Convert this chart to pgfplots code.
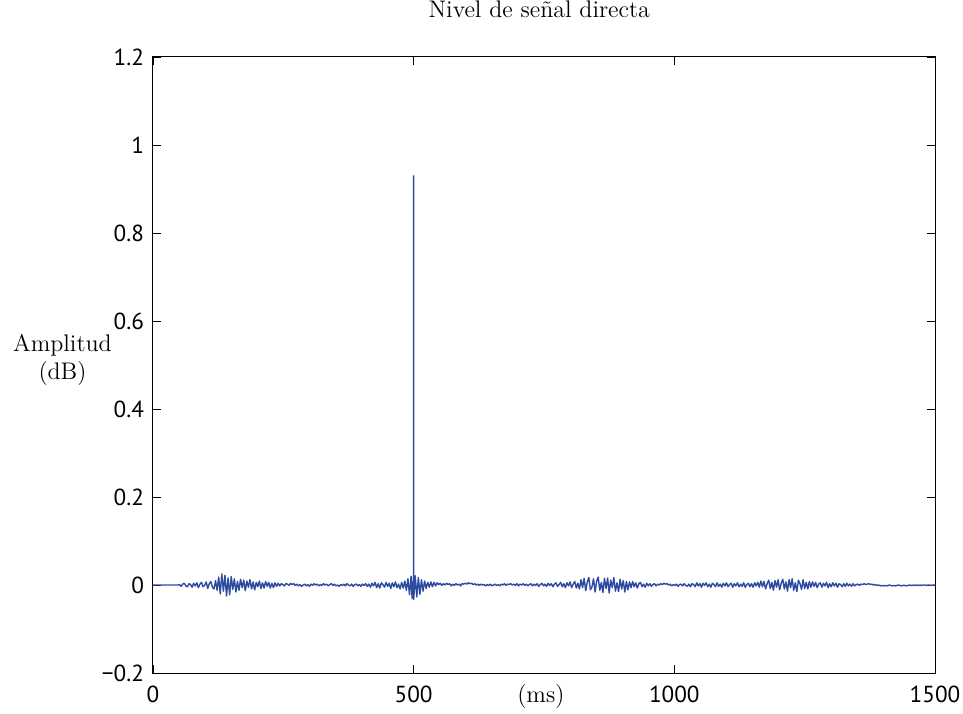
\documentclass[border=0pt]{standalone}
\usepackage{fontspec}
\usepackage{pgfplots}
\pgfplotsset{compat=1.18}
\newfontfamily\ticksfont{PT Sans}
\definecolor{sigblue}{RGB}{45,75,160}

\begin{document}
\begin{tikzpicture}
\begin{axis}[
  scale only axis,
  width=391pt, height=308pt,
  xmin=0, xmax=1500, ymin=-0.2, ymax=1.2,
  xtick={0,500,1000,1500},
  xticklabels={0,500,1000,1500},
  ytick={-0.2,0,0.2,0.4,0.6,0.8,1,1.2},
  yticklabels={−0.2,0,0.2,0.4,0.6,0.8,1,1.2},
  tick label style={font=\ticksfont\fontsize{11.6}{13}\selectfont},
  xticklabel style={anchor=base, yshift=-14.5pt},
  yticklabel style={xshift=-1pt},
  tick align=inside,
  major tick length=4pt,
  tick style={black, line width=0.4pt},
  axis line style={black, line width=0.5pt},
  title={Nivel de señal directa},
  title style={font=\large, at={(axis description cs:0.494,1)}, anchor=base, yshift=13.5pt},
  xlabel={(ms)},
  xlabel style={font=\large, at={(axis description cs:0.496,0)}, anchor=base, yshift=-14.5pt},
  ylabel={Amplitud\\(dB)},
  ylabel style={font=\large, rotate=-90, align=center, at={(axis description cs:0,0.508)}, xshift=-45.25pt, anchor=center},
]
\addplot[sigblue, line width=0.7pt, line join=round] coordinates {
(0,0) (48,0)
(51,0.001) (54,-0.003) (57,0.002) (60,0.004) (63,-0.002) (66,-0.004) (69,0.003) (72,0.001) (75,-0.005) (78,0.004)
(81,-0.002) (84,0.005) (87,-0.006) (90,0.002) (93,0.006) (96,-0.004) (99,-0.001) (102,0.007) (105,-0.008) (108,0.003)
(111,0.008) (114,-0.005) (117,-0.009) (120,0.010) (123,-0.012) (126,0.018) (129,-0.020) (132,0.025) (135,-0.014) (138,0.022)
(141,-0.025) (144,0.016) (147,-0.022) (150,0.019) (153,-0.010) (156,0.014) (159,-0.016) (162,0.008) (165,-0.012) (168,0.013)
(171,-0.006) (174,0.011) (177,-0.013) (180,0.009) (183,-0.005) (186,0.012) (189,-0.009) (192,0.007) (195,-0.011) (198,0.006)
(201,-0.004) (204,0.009) (207,-0.008) (210,0.005) (213,-0.007) (216,0.008) (219,-0.003) (222,0.006) (225,-0.007) (228,0.004)
(231,-0.006) (234,0.005) (237,-0.003) (240,0.004) (243,-0.002) (246,0.003) (249,0.001) (252,-0.002) (255,0.003) (258,0.002)
(261,-0.001) (264,0.004) (267,0.001) (270,0.003) (273,-0.001) (276,0.002) (279,-0.002) (282,0.001) (285,-0.003) (288,0.000)
(291,0.002) (294,-0.002) (297,0.001) (300,-0.003) (303,0.002) (306,-0.001) (309,0.003) (312,0.000) (315,0.002) (318,-0.002)
(321,0.001) (324,-0.001) (327,0.003) (330,0.000) (333,0.002) (336,-0.002) (339,0.001) (342,0.003) (345,-0.001) (348,0.002)
(351,-0.002) (354,0.000) (357,-0.003) (360,0.001) (363,-0.001) (366,0.002) (369,-0.002) (372,0.003) (375,0.000) (378,-0.002)
(381,0.002) (384,-0.003) (387,0.001) (390,0.002) (393,-0.002) (396,0.001) (399,-0.003) (402,0.002) (405,-0.001) (408,0.003)
(411,-0.003) (414,0.002) (417,-0.005) (420,0.004) (423,-0.002) (426,0.006) (429,-0.006) (432,0.003) (435,-0.007) (438,0.005)
(441,0.001) (444,-0.005) (447,0.006) (450,-0.003) (453,0.004) (456,-0.008) (459,0.005) (462,-0.004) (465,0.007) (468,-0.006)
(471,0.002) (474,-0.009) (477,0.006) (480,-0.007) (483,0.009) (486,-0.012) (489,0.014) (492,-0.022) (495,0.020) (497,-0.030)
(500,0.023) (500,0.930) (500,-0.033) (503,0.021) (506,-0.027) (509,0.017) (512,-0.021) (515,0.012) (518,-0.014) (521,0.009)
(524,-0.008) (527,0.006) (530,-0.005) (533,0.007) (536,-0.004) (539,0.006) (542,-0.002) (545,0.005) (548,0.001) (551,0.004)
(554,-0.001) (557,0.003) (560,0.000) (563,0.004) (566,0.001) (569,0.003) (572,-0.002) (575,0.002) (578,-0.001) (581,0.003)
(584,0.000) (587,0.002) (590,-0.002) (593,0.003) (596,0.002) (599,0.004) (602,0.002) (605,0.005) (608,0.003) (611,0.004)
(614,0.001) (617,0.003) (620,0.000) (623,0.002) (626,-0.001) (629,0.002) (632,0.000) (635,0.001) (638,-0.002) (641,0.001)
(644,-0.001) (647,0.002) (650,-0.002) (653,0.000) (656,0.002) (659,-0.001) (662,0.001) (665,-0.002) (668,0.002) (671,0.000)
(674,0.003) (677,-0.001) (680,0.002) (683,0.001) (686,0.003) (689,0.000) (692,0.002) (695,-0.001) (698,0.003) (701,-0.002)
(704,0.002) (707,0.000) (710,0.003) (713,-0.001) (716,0.002) (719,-0.002) (722,0.001) (725,0.003) (728,-0.002) (731,0.002)
(734,-0.001) (737,0.003) (740,-0.003) (743,0.001) (746,0.004) (749,-0.002) (752,0.002) (755,-0.003) (758,0.004) (761,-0.001)
(764,0.003) (767,-0.004) (770,0.002) (773,0.005) (776,-0.003) (779,0.001) (782,0.006) (785,-0.004) (788,0.003) (791,-0.006)
(794,0.005) (797,-0.002) (800,0.007) (803,-0.006) (806,0.002) (809,0.008) (812,-0.007) (815,0.004) (818,-0.009) (821,0.012)
(824,-0.006) (827,0.015) (830,-0.013) (833,0.007) (836,0.017) (839,-0.011) (842,-0.004) (845,0.014) (848,-0.016) (851,0.009)
(854,0.018) (857,-0.012) (860,0.006) (863,-0.017) (866,0.015) (869,-0.008) (872,0.016) (875,-0.018) (878,0.011) (881,-0.006)
(884,0.017) (887,-0.014) (890,0.005) (893,-0.015) (896,0.013) (899,-0.009) (902,0.010) (905,-0.016) (908,0.008) (911,-0.011)
(914,0.007) (917,-0.006) (920,0.008) (923,-0.004) (926,0.005) (929,-0.007) (932,0.003) (935,0.006) (938,-0.004) (941,0.002)
(944,-0.005) (947,0.004) (950,-0.002) (953,0.003) (956,-0.003) (959,0.001) (962,0.003) (965,-0.002) (968,0.002) (971,0.000)
(974,0.003) (977,0.001) (980,0.004) (983,0.002) (986,0.003) (989,0.000) (992,0.002) (995,-0.002) (998,0.001) (1001,-0.001)
(1004,0.002) (1007,-0.003) (1010,0.001) (1013,0.002) (1016,-0.002) (1019,0.003) (1022,-0.001) (1025,-0.003) (1028,0.002) (1031,-0.004)
(1034,0.003) (1037,0.001) (1040,-0.004) (1043,0.005) (1046,-0.002) (1049,0.003) (1052,-0.005) (1055,0.004) (1058,-0.001) (1061,0.005)
(1064,-0.004) (1067,0.002) (1070,-0.005) (1073,0.004) (1076,0.001) (1079,-0.004) (1082,0.005) (1085,-0.003) (1088,0.002) (1091,-0.005)
(1094,0.004) (1097,-0.002) (1100,0.005) (1103,-0.004) (1106,0.001) (1109,0.004) (1112,-0.005) (1115,0.003) (1118,-0.002) (1121,0.005)
(1124,-0.004) (1127,0.002) (1130,-0.003) (1133,0.005) (1136,-0.005) (1139,0.001) (1142,0.004) (1145,-0.004) (1148,0.003) (1151,-0.005)
(1154,0.005) (1157,-0.002) (1160,0.006) (1163,-0.005) (1166,0.009) (1169,-0.004) (1172,0.008) (1175,-0.009) (1178,0.003) (1181,0.011)
(1184,-0.008) (1187,0.006) (1190,-0.012) (1193,0.010) (1196,-0.005) (1199,0.012) (1202,-0.011) (1205,0.004) (1208,0.013) (1211,-0.009)
(1214,0.007) (1217,-0.014) (1220,0.012) (1223,-0.006) (1226,0.014) (1229,-0.012) (1232,0.005) (1235,-0.015) (1238,0.011) (1241,0.003)
(1244,-0.010) (1247,0.012) (1250,-0.008) (1253,0.006) (1256,-0.009) (1259,0.008) (1262,-0.005) (1265,0.007) (1268,-0.003) (1271,0.006)
(1274,-0.006) (1277,0.002) (1280,0.005) (1283,-0.005) (1286,0.004) (1289,-0.002) (1292,0.006) (1295,-0.006) (1298,0.003) (1301,-0.004)
(1304,0.005) (1307,-0.002) (1310,0.004) (1313,-0.005) (1316,0.003) (1319,0.001) (1322,-0.004) (1325,0.003) (1328,-0.003) (1331,0.004)
(1334,-0.002) (1337,0.002) (1340,-0.003) (1343,0.003) (1346,-0.002) (1349,0.001) (1352,0.002) (1355,-0.001) (1358,0.002) (1361,0.001)
(1364,0.003) (1367,0.001) (1370,0.002) (1373,0.003) (1376,0.001) (1379,0.002) (1382,0.000) (1385,0.001) (1388,-0.001) (1391,0.000)
(1394,-0.001) (1397,-0.002) (1400,-0.001) (1403,-0.002) (1406,-0.001) (1409,-0.002) (1412,0.000) (1415,-0.001) (1418,-0.002) (1421,-0.001)
(1424,-0.002) (1427,-0.001) (1430,0.000) (1433,-0.001) (1436,-0.002) (1439,-0.001) (1442,-0.001) (1445,-0.002) (1448,-0.001) (1451,0.000)
(1454,-0.001) (1457,-0.001) (1460,0.000) (1463,-0.001) (1466,0.000) (1469,-0.001) (1472,0.000) (1475,-0.001) (1478,0.000) (1481,0.000)
(1484,-0.001) (1487,0.000) (1490,0.000) (1493,-0.001) (1496,0.000) (1500,0.000)
};
% corners of the plotting area, used for the page margins below
\coordinate (pSW) at (rel axis cs:0,0);
\coordinate (pNE) at (rel axis cs:1,1);
\end{axis}
% fixed white margin around the plotting area
\pgfresetboundingbox
\path ([shift={(-76.5pt,-20pt)}]pSW) rectangle ([shift={(14pt,28.5pt)}]pNE);
\end{tikzpicture}
\end{document}
